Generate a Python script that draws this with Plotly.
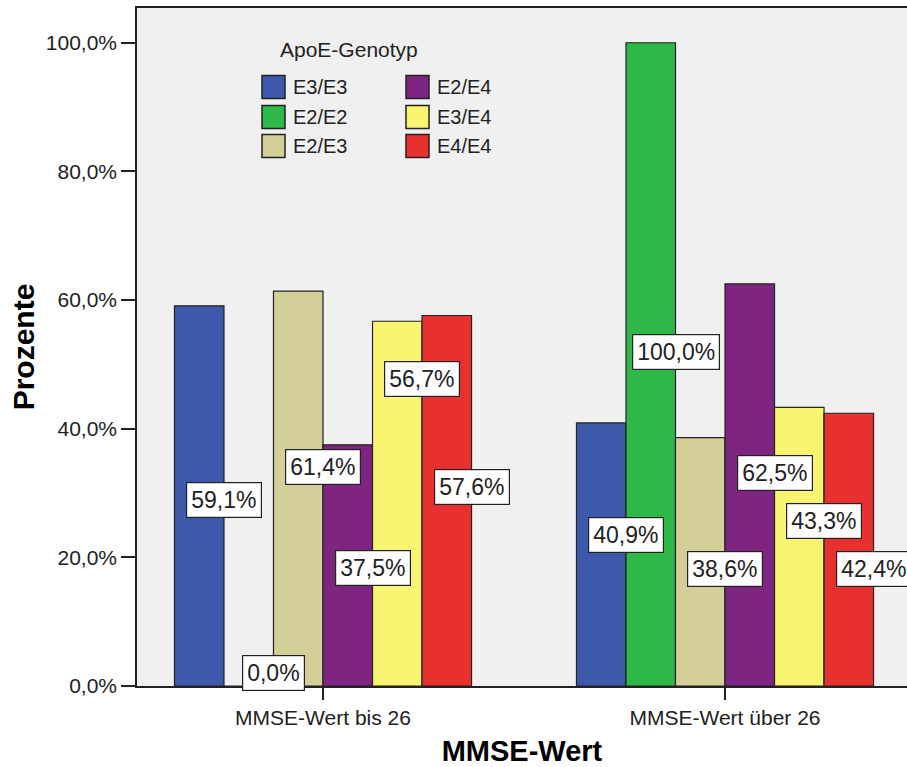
import plotly.graph_objects as go

# ---- data ----
categories = ["MMSE-Wert bis 26", "MMSE-Wert über 26"]
genotypes = ["E3/E3", "E2/E2", "E2/E3", "E2/E4", "E3/E4", "E4/E4"]
e3e3 = [59.1, 40.9]
e2e2 = [0.0, 100.0]
e2e3 = [61.4, 38.6]
e2e4 = [37.5, 62.5]
e3e4 = [56.7, 43.3]
e4e4 = [57.6, 42.4]
series = [e3e3, e2e2, e2e3, e2e4, e3e4, e4e4]
colors = ["#3E58AC", "#2EB848", "#D4CF98", "#7D2580", "#FAF571", "#E8302E"]
ytick_vals = [0, 20, 40, 60, 80, 100]
ytick_text = ["0,0%", "20,0%", "40,0%", "60,0%", "80,0%", "100,0%"]
legend_title = "ApoE-Genotyp"

# vertical placement of the value labels (SPSS staggers them to avoid overlap)
label_y = [[28.9, 23.5], [2.0, 51.9], [34.1, 18.2], [18.4, 33.1], [47.7, 25.7], [30.9, 18.2]]

FONT = "Arial, Liberation Sans, sans-serif"
W, H = 907, 767
ML, MR, MT, MB = 137, 0, 8, 81
PW, PH = W - ML - MR, H - MT - MB
bargap = 0.261
n = len(genotypes)
w = (1 - bargap) / n


def px_x(px):
    return (px - ML) / PW


def px_y(py):
    return (H - MB - py) / PH


fig = go.Figure()
for i, (name, vals, col) in enumerate(zip(genotypes, series, colors)):
    fig.add_trace(go.Bar(
        x=categories, y=vals, name=name, showlegend=False,
        marker=dict(color=col, line=dict(color="#222222", width=1.2)),
    ))


def fmt(v):
    return f"{v:.1f}".replace(".", ",") + "%"


annotations = []
for i, vals in enumerate(series):
    for g, v in enumerate(vals):
        annotations.append(dict(
            x=g - (1 - bargap) / 2 + (i + 1) * w, y=label_y[i][g],
            xref="x", yref="y", text=fmt(v), showarrow=False,
            font=dict(family=FONT, size=23, color="#222222"),
            bgcolor="white", bordercolor="#222222", borderwidth=1.2, borderpad=4,
        ))

# legend (two columns, three rows, SPSS style)
annotations.append(dict(
    x=px_x(278), y=px_y(50), xref="paper", yref="paper",
    xanchor="left", yanchor="middle", text=legend_title, showarrow=False,
    font=dict(family=FONT, size=21, color="#222222"),
))
shapes = []
col_x = [262, 406]
row_y = [87, 117, 146]
sw = 23
for i, (name, col) in enumerate(zip(genotypes, colors)):
    cx = col_x[i // 3]
    cy = row_y[i % 3]
    shapes.append(dict(
        type="rect", xref="paper", yref="paper",
        x0=px_x(cx), x1=px_x(cx + sw), y0=px_y(cy + sw / 2), y1=px_y(cy - sw / 2),
        fillcolor=col, line=dict(color="#222222", width=1.5),
    ))
    annotations.append(dict(
        x=px_x(cx + sw + 6), y=px_y(cy), xref="paper", yref="paper",
        xanchor="left", yanchor="middle", text=name, showarrow=False,
        font=dict(family=FONT, size=20, color="#222222"),
    ))

fig.update_layout(
    width=W, height=H,
    margin=dict(l=ML, r=MR, t=MT, b=MB),
    paper_bgcolor="white", plot_bgcolor="#F0F0F0",
    barmode="group", bargap=bargap, bargroupgap=0,
    font=dict(family=FONT, size=20, color="#222222"),
    annotations=annotations, shapes=shapes,
    xaxis=dict(
        type="category", range=[-0.4627, 1.4527],
        showline=True, linecolor="#222222", linewidth=1.5, mirror=True,
        ticks="outside", ticklen=12, tickcolor="#222222", tickwidth=1.5,
        tickfont=dict(family=FONT, size=21, color="#222222"),
        showgrid=False, zeroline=False,
        title=dict(text="<b>MMSE-Wert</b>", font=dict(family=FONT, size=29, color="black"), standoff=16),
    ),
    yaxis=dict(
        range=[0, 105.4], tickvals=ytick_vals, ticktext=ytick_text,
        showline=True, linecolor="#222222", linewidth=1.5,
        ticks="outside", ticklen=14, tickcolor="#222222", tickwidth=1.5,
        tickfont=dict(family=FONT, size=21, color="#222222"),
        showgrid=False, zeroline=False,
        title=dict(text="<b>Prozente</b>", font=dict(family=FONT, size=30, color="black"), standoff=2),
    ),
)

fig.write_html(
    "out.html",
    config={"displayModeBar": False},
    post_script="document.documentElement.style.margin='0';document.body.style.margin='0';"
                "document.documentElement.style.overflow='hidden';document.body.style.overflow='hidden';",
)
